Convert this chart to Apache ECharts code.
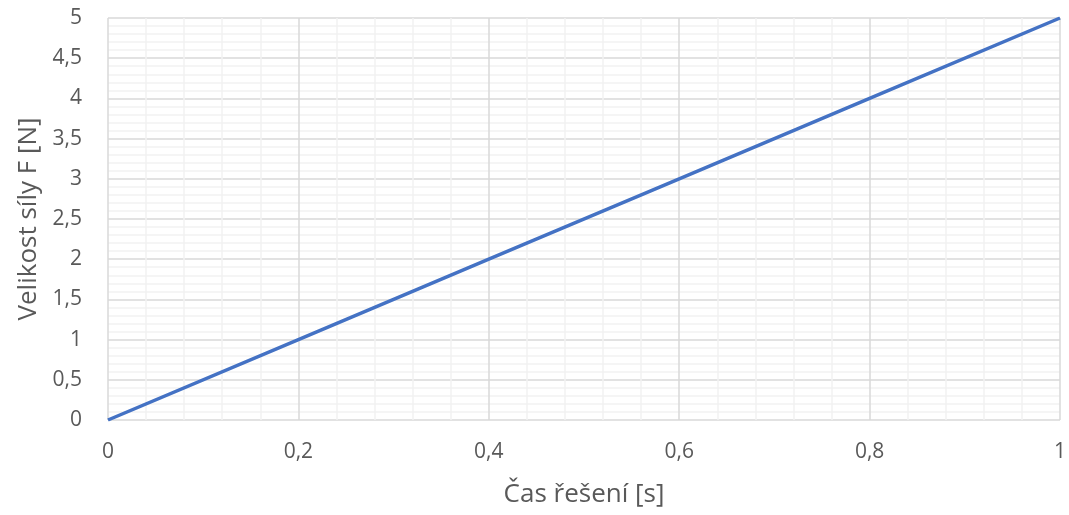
<!DOCTYPE html>
<html><head><meta charset="utf-8">
<script src="https://cdn.jsdelivr.net/npm/echarts@6/dist/echarts.min.js"></script>
<style>html,body{margin:0;padding:0;background:#fff}#c{width:1069px;height:515px}</style>
</head><body><div id="c"></div>
<script>
const xValues = [0, 0.2, 0.4, 0.6, 0.8, 1];
const forceValues = [0, 1, 2, 3, 4, 5];
const xTitle = 'Čas řešení [s]';
const yTitle = 'Velikost síly F [N]';
const fmt = v => String(Math.round(v * 100) / 100).replace('.', ',');
const FONT = 'Open Sans';
const chart = echarts.init(document.getElementById('c'));
chart.setOption({
  animation: false,
  grid: { left: 108, right: 9, top: 18, bottom: 95, outerBoundsMode: 'none', containLabel: false },
  xAxis: {
    type: 'value', min: 0, max: 1, interval: 0.2,
    name: xTitle, nameLocation: 'middle', nameGap: 62,
    nameTextStyle: { color: '#595959', fontSize: 26, fontFamily: FONT },
    axisLine: { show: false }, axisTick: { show: false },
    axisLabel: { color: '#595959', fontSize: 21, fontFamily: FONT, margin: 22, formatter: fmt },
    splitLine: { show: true, lineStyle: { color: '#d9d9d9', width: 1.5 } },
    minorTick: { show: false, splitNumber: 5 },
    minorSplitLine: { show: true, lineStyle: { color: '#f2f2f2', width: 1.5 } }
  },
  yAxis: {
    type: 'value', min: 0, max: 5, interval: 0.5,
    name: yTitle, nameLocation: 'middle', nameGap: 66,
    nameTextStyle: { color: '#595959', fontSize: 26, fontFamily: FONT },
    axisLine: { show: false }, axisTick: { show: false },
    axisLabel: { color: '#595959', fontSize: 21, fontFamily: FONT, margin: 26, formatter: fmt },
    splitLine: { show: true, lineStyle: { color: '#d9d9d9', width: 1.5 } },
    minorTick: { show: false, splitNumber: 5 },
    minorSplitLine: { show: true, lineStyle: { color: '#f2f2f2', width: 1.5 } }
  },
  series: [{
    type: 'line',
    data: xValues.map((x, i) => [x, forceValues[i]]),
    showSymbol: false,
    lineStyle: { color: '#4472c4', width: 3.5 },
    itemStyle: { color: '#4472c4' }
  }]
});
</script></body></html>
